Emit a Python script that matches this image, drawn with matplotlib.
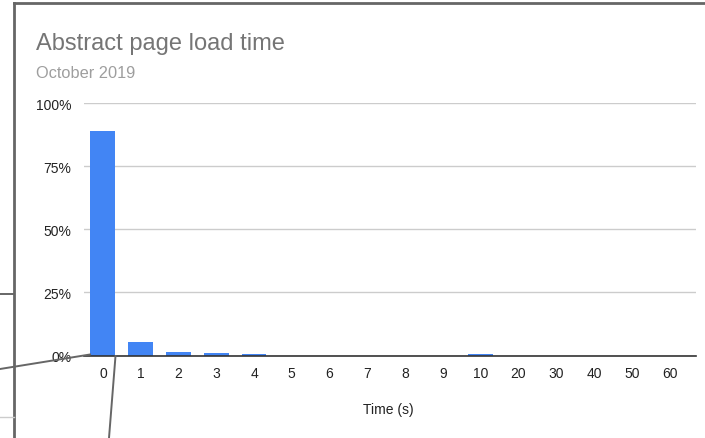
import matplotlib.pyplot as plt
from matplotlib.lines import Line2D
from matplotlib.ticker import FuncFormatter

plt.rcParams['font.family'] = ['Liberation Sans', 'DejaVu Sans']

# load time buckets (seconds) and share of page loads
buckets = ['0', '1', '2', '3', '4', '5', '6', '7', '8', '9',
           '10', '20', '30', '40', '50', '60']
share = [0.889, 0.052, 0.015, 0.011, 0.006, 0.0, 0.0, 0.0, 0.0, 0.0,
         0.005, 0.0, 0.0, 0.0, 0.0, 0.0]

W, H = 705, 439
fig = plt.figure(figsize=(W / 100, H / 100), dpi=100)
ax = fig.add_axes([84 / W, 1 - 356.5 / H, (696 - 84) / W, 252.5 / H])

x = range(len(buckets))
ax.bar(x, share, width=0.66, color='#4285f4', zorder=3)

ax.set_ylim(0, 1)
ax.set_xlim(-0.5, len(buckets) - 0.3)
ax.set_yticks([0, 0.25, 0.5, 0.75, 1.0])
ax.yaxis.set_major_formatter(FuncFormatter(lambda v, p: f'{v:.0%}'))
ax.set_xticks(list(x))
ax.set_xticklabels(buckets)
ax.grid(axis='y', color='#cccccc', linewidth=1, zorder=0)
for s in ['top', 'right', 'left']:
    ax.spines[s].set_visible(False)
ax.spines['bottom'].set_color('#333333')
ax.spines['bottom'].set_linewidth(1.2)
ax.spines['bottom'].set_zorder(4)
ax.tick_params(length=0, labelsize=10, colors='#222222')
ax.tick_params(axis='x', pad=7.5)
ax.tick_params(axis='y', pad=9)
ax.set_xlabel('Time (s)', fontsize=10, color='#222222')
ax.xaxis.set_label_coords((388 - 84) / (696 - 84), -(403 - 356.5) / 252.5)

fig.text(36 / W, 1 - 50 / H, 'Abstract page load time', fontsize=17,
         color='#757575', va='baseline')
fig.text(36 / W, 1 - 78 / H, 'October 2019', fontsize=11.8,
         color='#9e9e9e', va='baseline')

# frame and leader lines around the chart
def px_line(xs, ys, color='#666666', lw=1.6):
    fig.add_artist(Line2D([v / W for v in xs], [1 - v / H for v in ys],
                          transform=fig.transFigure, color=color, lw=lw,
                          zorder=10))

px_line([13.5, 13.5], [3.5, H], lw=2)
px_line([13.5, W], [3.5, 3.5], lw=2)
px_line([0, 13.5], [294.5, 294.5], lw=1.4)
px_line([0, 13.5], [417.5, 417.5], color='#cccccc', lw=1)
px_line([0, 90], [370, 355.5], lw=1.4)
px_line([115.5, 109], [357, H], lw=1.4)

fig.savefig('out.png', dpi=100)
